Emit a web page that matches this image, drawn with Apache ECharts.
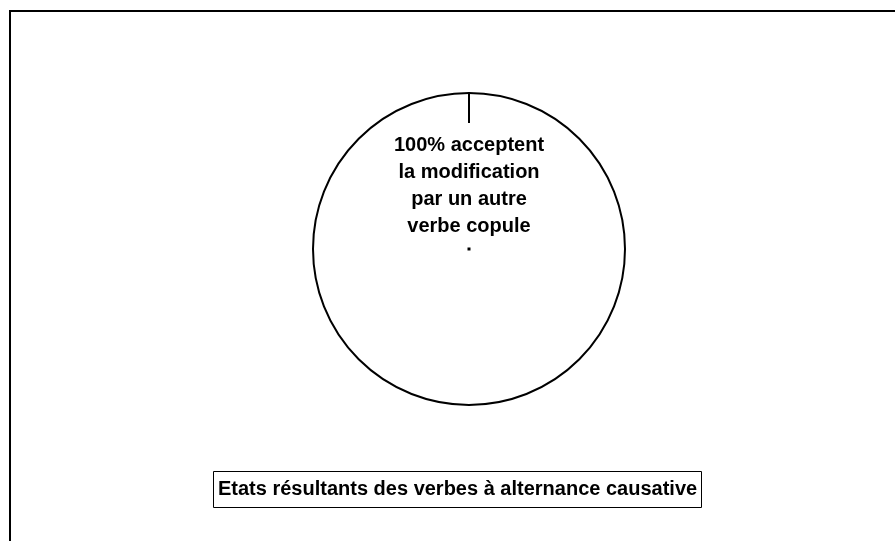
<!DOCTYPE html>
<html>
<head>
<meta charset="utf-8">
<title>Etats résultants des verbes à alternance causative</title>
<script src="https://cdn.jsdelivr.net/npm/echarts@6/dist/echarts.min.js"></script>
<style>
  html, body { margin: 0; padding: 0; background: #fff; }
  #chart { width: 895px; height: 541px; }
</style>
</head>
<body>
<div id="chart"></div>
<script>
// data
const categories = ['acceptent la modification par un autre verbe copule']
const shares = [100]
const labelLines = ['100% acceptent', 'la modification', 'par un autre', 'verbe copule']
const chartTitle = 'Etats résultants des verbes à alternance causative'

const cx = 469
const cy = 249
const r = 156

const chart = echarts.init(document.getElementById('chart'), null, { renderer: 'canvas' })

chart.setOption({
  backgroundColor: '#fff',
  animation: false,
  title: {
    text: chartTitle,
    left: 213,
    top: 471,
    padding: [8, 5, 8, 5],
    borderColor: '#000',
    borderWidth: 1,
    textStyle: {
      fontFamily: 'Liberation Sans, Arial, sans-serif',
      fontSize: 20,
      fontWeight: 'bold',
      color: '#000',
      lineHeight: 21
    }
  },
  series: [
    {
      type: 'pie',
      center: [cx, cy],
      radius: [0, r],
      startAngle: 90,
      clockwise: true,
      silent: true,
      itemStyle: {
        color: '#fff',
        borderColor: '#000',
        borderWidth: 2
      },
      label: {
        show: true,
        position: 'center',
        formatter: () => labelLines.join('\n'),
        fontFamily: 'Liberation Sans, Arial, sans-serif',
        fontSize: 20,
        fontWeight: 'bold',
        color: '#000',
        lineHeight: 27,
        align: 'center',
        offset: [0, -63]
      },
      labelLine: { show: false },
      emphasis: { disabled: true },
      data: categories.map((name, i) => ({ name, value: shares[i] }))
    }
  ],
  graphic: [
    // page frame (top and left edges of the scanned figure)
    {
      type: 'polyline',
      z: 100,
      shape: { points: [[10, 541], [10, 11], [895, 11]] },
      style: { stroke: '#000', lineWidth: 2, fill: null }
    },
    // slice boundary at 12 o'clock
    {
      type: 'line',
      z: 100,
      shape: { x1: cx, y1: cy - r, x2: cx, y2: cy - r + 30 },
      style: { stroke: '#000', lineWidth: 2 }
    },
    // leader dot at the pie centre
    {
      type: 'rect',
      z: 100,
      shape: { x: cx - 1.5, y: cy - 1.5, width: 3, height: 3 },
      style: { fill: '#000' }
    }
  ]
})
</script>
</body>
</html>
